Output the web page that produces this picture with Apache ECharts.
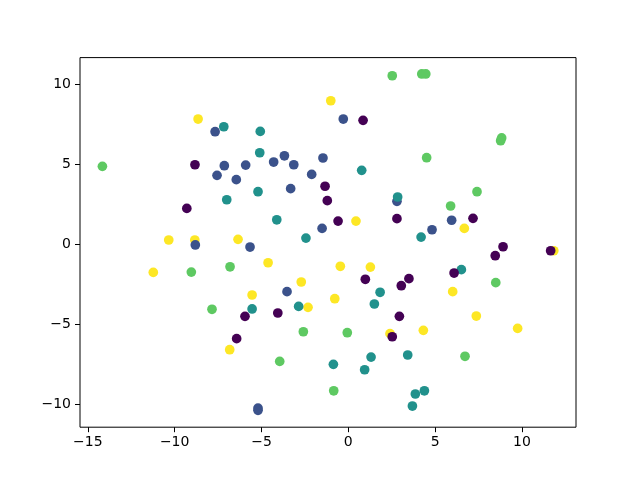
<!DOCTYPE html>
<html>
<head>
<meta charset="utf-8">
<script src="https://cdn.jsdelivr.net/npm/echarts@6/dist/echarts.min.js"></script>
<style>
  html, body { margin: 0; padding: 0; background: #fff; }
  #chart { width: 640px; height: 480px; }
</style>
</head>
<body>
<div id="chart"></div>
<script>
// points per class, [x, y]
const class0 = [
  [-8.83, 4.96], [-1.34, 3.62], [-1.21, 2.72], [-9.30, 2.24], [0.85, 7.73],
  [-0.59, 1.45], [2.80, 1.60], [7.18, 1.62], [8.91, -0.15], [-5.95, -4.49],
  [-4.06, -4.28], [-6.43, -5.88], [8.46, -0.71], [11.65, -0.40], [6.09, -1.79],
  [0.98, -2.18], [3.49, -2.14], [3.05, -2.58], [2.94, -4.49], [2.53, -5.76]
];
const class1 = [
  [-7.67, 7.02], [-7.14, 4.90], [-5.91, 4.94], [-7.56, 4.30], [-6.45, 4.03],
  [-4.30, 5.13], [-3.68, 5.52], [-3.14, 4.96], [-1.46, 5.38], [-2.11, 4.36],
  [-3.32, 3.47], [-1.51, 0.99], [-8.81, -0.04], [-5.66, -0.17], [-0.29, 7.81],
  [2.80, 2.68], [5.95, 1.50], [4.82, 0.91], [-3.53, -2.95], [-5.20, -10.21],
  [-5.20, -10.35]
];
const class2 = [
  [-7.17, 7.33], [-5.07, 7.04], [-5.10, 5.71], [-5.20, 3.28], [-7.00, 2.78],
  [-4.12, 1.53], [-2.44, 0.39], [0.77, 4.61], [2.84, 2.95], [4.19, 0.45],
  [-5.54, -4.03], [-2.86, -3.87], [6.51, -1.58], [1.83, -2.99], [1.50, -3.72],
  [-0.86, -7.48], [1.31, -7.03], [0.94, -7.82], [3.42, -6.90], [4.38, -9.13],
  [3.86, -9.33], [3.69, -10.08]
];
const class3 = [
  [-14.16, 4.86], [2.53, 10.51], [4.23, 10.62], [4.46, 10.62], [8.83, 6.63],
  [8.77, 6.46], [4.51, 5.40], [7.41, 3.28], [5.89, 2.39], [-9.04, -1.73],
  [-6.81, -1.40], [-7.85, -4.05], [-2.59, -5.45], [-3.95, -7.30], [8.49, -2.39],
  [-0.06, -5.51], [6.72, -6.98], [-0.84, -9.13]
];
const class4 = [
  [-8.65, 7.81], [-10.34, 0.27], [-8.84, 0.27], [-6.35, 0.31], [-1.01, 8.95],
  [0.44, 1.45], [6.68, 0.99], [-4.62, -1.15], [-11.23, -1.75], [-2.71, -2.35],
  [-5.54, -3.16], [-2.32, -3.93], [-6.83, -6.57], [11.83, -0.40], [-0.46, -1.37],
  [1.27, -1.42], [-0.78, -3.39], [6.01, -2.95], [7.37, -4.47], [2.40, -5.57],
  [4.32, -5.36], [9.75, -5.24]
];
const xTicks = [-15, -10, -5, 0, 5, 10];
const yTicks = [-10, -5, 0, 5, 10];

// viridis, 5 levels
const colors = ['#440154', '#3b528b', '#21918c', '#5ec962', '#fde725'];
// drawing order so overlaps stack like the original
const drawOrder = [[4, class4], [1, class1], [2, class2], [3, class3], [0, class0]];

const minus = (v) => String(v).replace('-', '\u2212');

const chart = echarts.init(document.getElementById('chart'), null, { renderer: 'canvas' });

const axisCommon = {
  type: 'value',
  splitLine: { show: false },
  axisLine: { show: false, onZero: false },
  axisTick: { show: true, inside: false, length: 5, lineStyle: { color: '#000', width: 1 } },
  axisLabel: {
    color: '#000',
    fontFamily: 'DejaVu Sans',
    fontSize: 14,
    margin: 8,
    formatter: minus,
  },
};

chart.setOption({
  animation: false,
  backgroundColor: '#fff',
  grid: {
    left: 80, right: 64, top: 57.6, bottom: 52.8,
    show: true, borderColor: '#000', borderWidth: 1, backgroundColor: 'transparent',
  },
  xAxis: {
    ...axisCommon,
    min: -15.45, max: 13.11,
    axisTick: { ...axisCommon.axisTick, customValues: xTicks },
    axisLabel: { ...axisCommon.axisLabel, customValues: xTicks },
  },
  yAxis: {
    ...axisCommon,
    min: -11.40, max: 11.64,
    axisTick: { ...axisCommon.axisTick, customValues: yTicks },
    axisLabel: { ...axisCommon.axisLabel, margin: 9, customValues: yTicks },
  },
  series: drawOrder.map(([cls, pts]) => ({
    type: 'scatter',
    name: 'class ' + cls,
    data: pts,
    symbol: 'circle',
    symbolSize: 9.7,
    itemStyle: { color: colors[cls], opacity: 1 },
    emphasis: { disabled: true },
  })),
});
</script>
</body>
</html>
